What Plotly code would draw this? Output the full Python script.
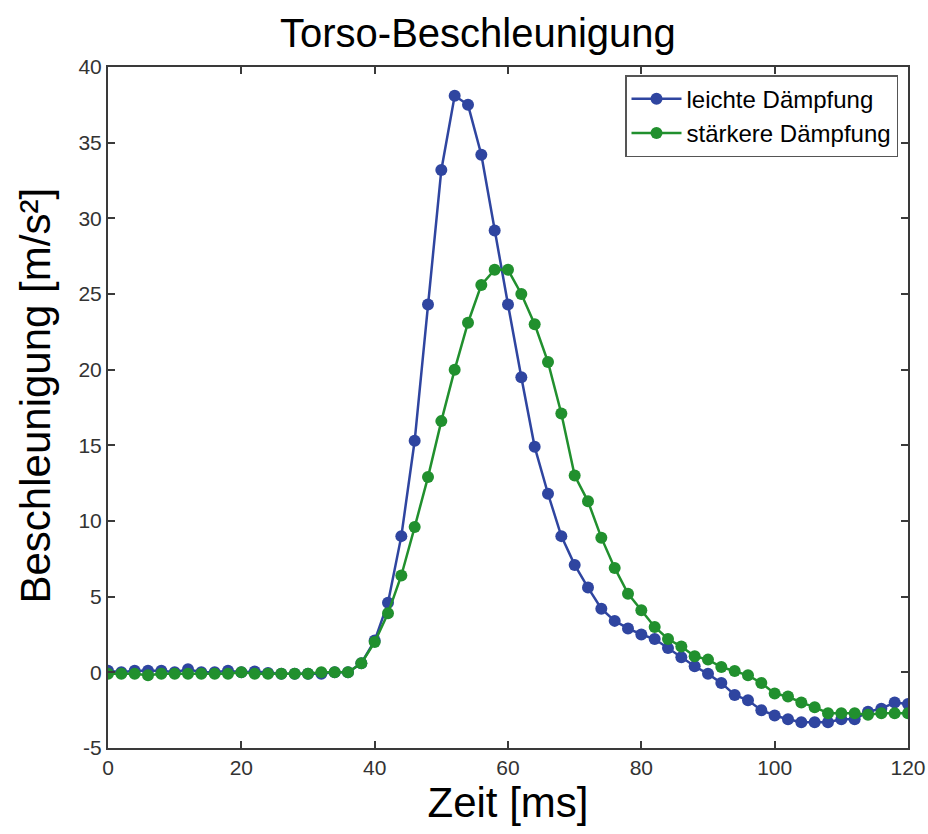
import plotly.graph_objects as go

time_ms = list(range(0, 122, 2))

leichte = [0.1, 0.0, 0.1, 0.1, 0.1, 0.0, 0.2, 0.0, 0.0, 0.1, 0.0, 0.05, -0.05, -0.1, -0.1, -0.1, -0.1, 0.0, 0.0,
           0.6, 2.1, 4.6, 9.0, 15.3, 24.3, 33.2, 38.1, 37.5, 34.2, 29.2, 24.3, 19.5, 14.9, 11.8, 9.0, 7.1, 5.6,
           4.2, 3.4, 2.9, 2.5, 2.2, 1.6, 1.0, 0.4, -0.1, -0.7, -1.5, -1.85, -2.5, -2.85, -3.1, -3.3, -3.3, -3.3,
           -3.1, -3.1, -2.6, -2.4, -2.0, -2.1]

staerkere = [-0.1, -0.1, -0.1, -0.2, -0.1, -0.1, -0.1, -0.1, -0.1, -0.1, 0.0, -0.1, -0.1, -0.1, -0.1, -0.1, 0.0, 0.0, 0.0,
             0.6, 2.0, 3.9, 6.4, 9.6, 12.9, 16.6, 20.0, 23.1, 25.6, 26.6, 26.6, 25.0, 23.0, 20.5, 17.1, 13.0, 11.3,
             8.9, 6.9, 5.2, 4.1, 3.0, 2.2, 1.7, 1.06, 0.84, 0.35, 0.09, -0.2, -0.7, -1.4, -1.6, -2.0, -2.3, -2.7,
             -2.7, -2.7, -2.8, -2.7, -2.7, -2.7]

x_ticks = [0, 20, 40, 60, 80, 100, 120]
y_ticks = [-5, 0, 5, 10, 15, 20, 25, 30, 35, 40]

blue = "#2f45a0"
green = "#21902e"
font_family = "Liberation Sans, Arial"

fig = go.Figure()
fig.add_trace(go.Scatter(x=time_ms, y=leichte, mode="lines+markers", name="leichte Dämpfung",
                         line=dict(color=blue, width=2.5), marker=dict(color=blue, size=12)))
fig.add_trace(go.Scatter(x=time_ms, y=staerkere, mode="lines+markers", name="stärkere Dämpfung",
                         line=dict(color=green, width=2.5), marker=dict(color=green, size=12)))

axis_common = dict(showline=True, mirror="ticks", linecolor="#3a3a3a", linewidth=2,
                   ticks="inside", ticklen=7, tickwidth=1.5, tickcolor="#3a3a3a",
                   showgrid=False, zeroline=False, automargin=False,
                   ticklabeloverflow="allow",
                   tickfont=dict(family=font_family, size=21, color="#333333"))

fig.update_layout(
    width=928, height=834,
    paper_bgcolor="white", plot_bgcolor="white",
    margin=dict(l=108, r=20, t=67, b=86),
    title=dict(text="Torso-Beschleunigung", x=0.515, xanchor="center", y=0.977, yanchor="top",
               font=dict(family=font_family, size=40, color="black")),
    xaxis=dict(range=[0, 120], tickvals=x_ticks, ticktext=[str(v) for v in x_ticks],
               title=dict(text="Zeit [ms]", standoff=8,
                          font=dict(family=font_family, size=42, color="black")),
               **axis_common),
    yaxis=dict(range=[-5, 40], tickvals=y_ticks, ticktext=[str(v) for v in y_ticks],
               **axis_common),
    annotations=[dict(text="Beschleunigung [m/s²]", textangle=-90, xref="paper", yref="paper",
                      x=0, y=0.5, xanchor="center", yanchor="middle", xshift=-73, yshift=12,
                      showarrow=False, font=dict(family=font_family, size=42, color="black"))],
    legend=dict(x=0.9875, y=0.988, xanchor="right", yanchor="top",
                bgcolor="white", bordercolor="#555555", borderwidth=1.5,
                font=dict(family=font_family, size=24, color="black"),
                tracegroupgap=0, itemwidth=50),
    showlegend=True,
)

fig.write_html("out.html", config={"displayModeBar": False},
               post_script="document.body.style.margin='0';document.body.style.overflow='hidden';")
